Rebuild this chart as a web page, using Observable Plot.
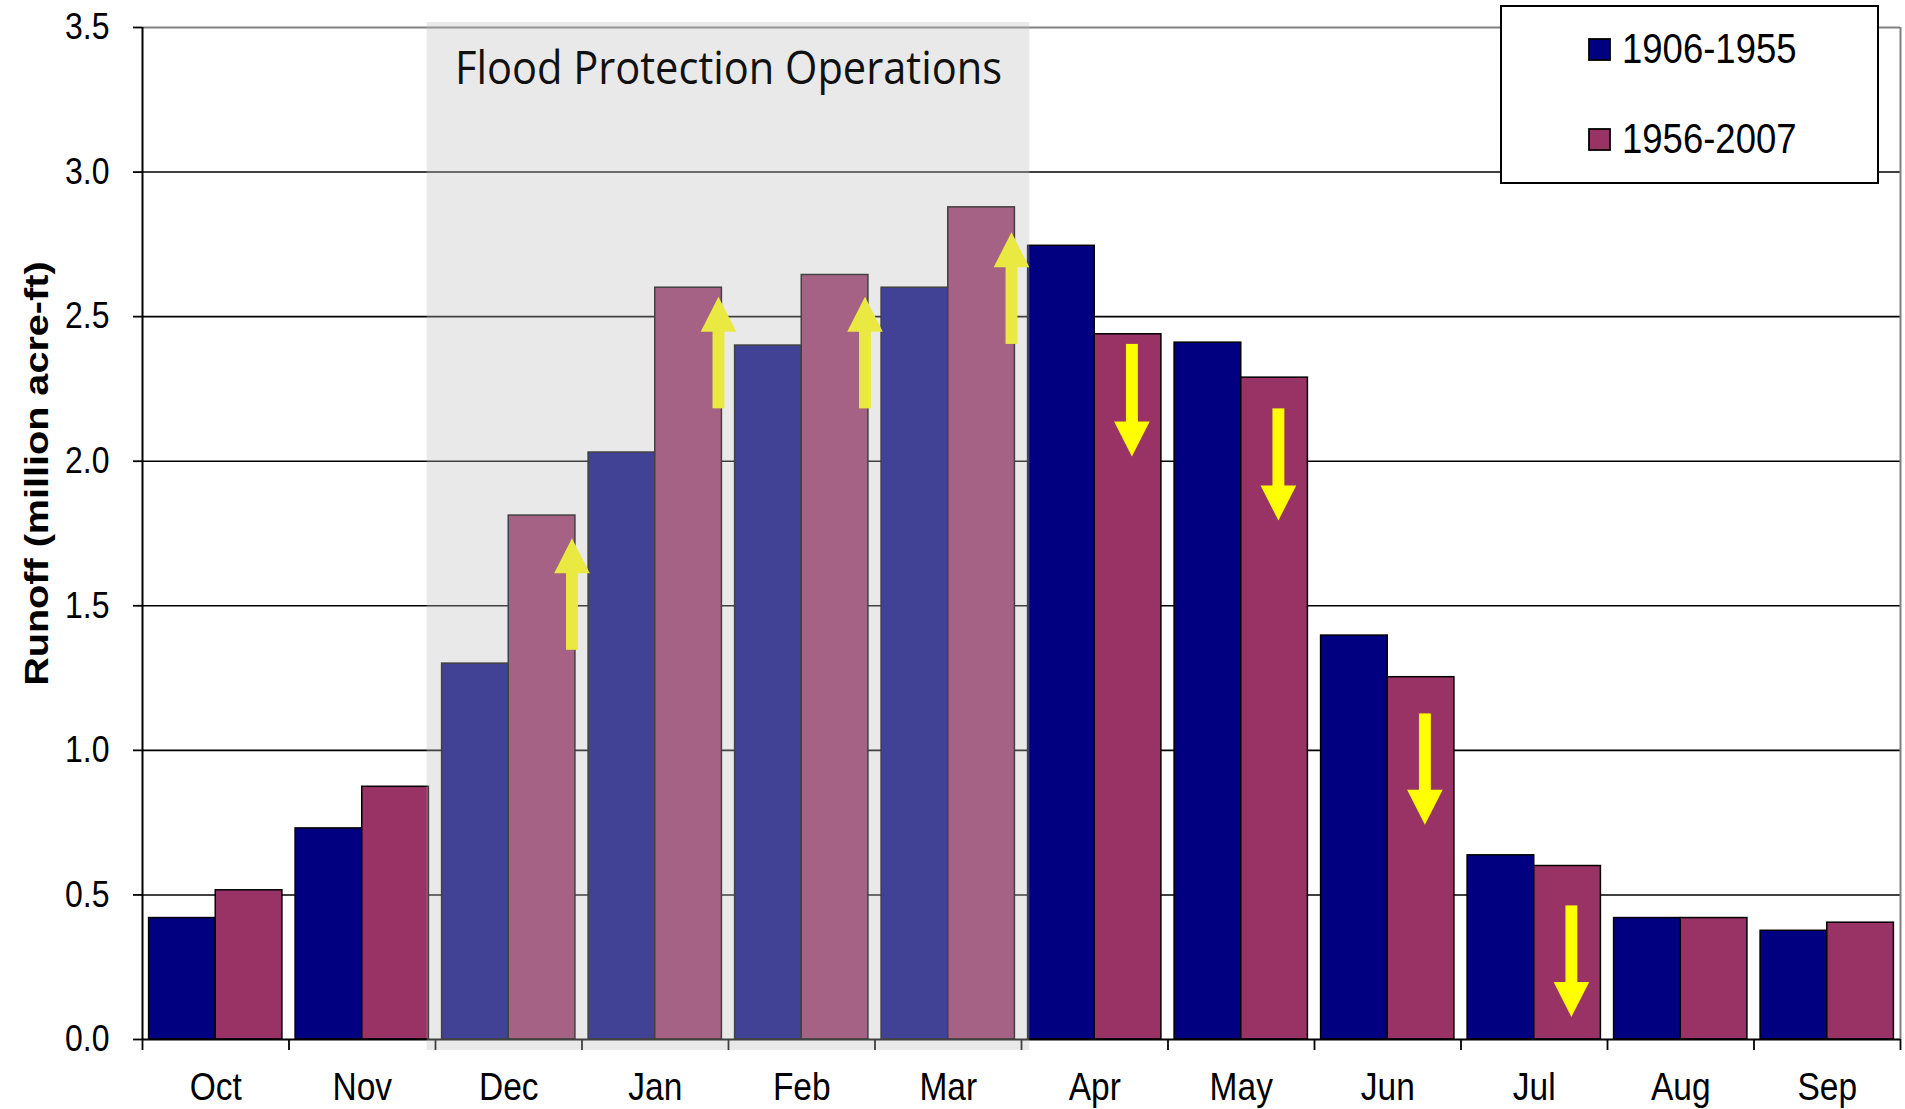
<!DOCTYPE html>
<html>
<head>
<meta charset="utf-8">
<script src="https://cdn.jsdelivr.net/npm/d3@7"></script>
<script src="https://cdn.jsdelivr.net/npm/@observablehq/plot@0.6"></script>
<style>
  html, body { margin: 0; padding: 0; background: #fff; overflow: hidden; }
  #chart { position: relative; width: 1905px; height: 1109px; }
  #legend { position: absolute; left: 1500px; top: 5px; }
</style>
</head>
<body>
<div id="chart"></div>
<script>
// Monthly runoff, million acre-ft, water year order
const months = ["Oct", "Nov", "Dec", "Jan", "Feb", "Mar", "Apr", "May", "Jun", "Jul", "Aug", "Sep"];
const periods = ["1906-1955", "1956-2007"];
const runoffEarly = [0.42, 0.73, 1.30, 2.03, 2.40, 2.60, 2.745, 2.41, 1.397, 0.637, 0.42, 0.376];
const runoffLate  = [0.516, 0.874, 1.812, 2.60, 2.644, 2.878, 2.439, 2.289, 1.253, 0.600, 0.420, 0.404];
const periodColors = ["#000080", "#993366"];
const yTicks = [0, 0.5, 1.0, 1.5, 2.0, 2.5, 3.0, 3.5];
const yLabel = "Runoff (million acre-ft)";

// Flood protection season and the shift arrows
const floodSpan = ["Dec", "Mar"];
const floodLabel = "Flood Protection Operations";
const arrowMonths = ["Dec", "Jan", "Feb", "Mar", "Apr", "May", "Jun", "Jul"];
const arrowFrom = [1.346, 2.181, 2.181, 2.404, 2.404, 2.181, 1.126, 0.462];
const arrowTo   = [1.732, 2.567, 2.567, 2.790, 2.015, 1.793, 0.741, 0.076];

// ---- derived tables ----
const bars = months.flatMap((m, i) => [
  {month: m, i, period: periods[0], value: runoffEarly[i], slot: 0},
  {month: m, i, period: periods[1], value: runoffLate[i], slot: 1}
]);

const GAP = 0.045;             // space at each side of a month group (band units)
const HEAD_LEN = 0.121;        // arrow head length (y units)
const HEAD_HALF = 0.1215;      // half head width (band units)
const SHAFT_HALF = 0.0406;     // half shaft width (band units)

const arrows = arrowMonths.map((m, k) => {
  const i = months.indexOf(m);
  const dir = arrowTo[k] > arrowFrom[k] ? 1 : -1;
  return {k, i, dir, x: i + (dir > 0 ? 0.935 : 0.757), from: arrowFrom[k], to: arrowTo[k]};
});
const heads = arrows.flatMap(a => {
  const base = a.to - a.dir * HEAD_LEN;
  return [
    {k: a.k, x: a.x - HEAD_HALF, y1: base, y2: base},
    {k: a.k, x: a.x, y1: base, y2: a.to},
    {k: a.k, x: a.x + HEAD_HALF, y1: base, y2: base}
  ];
});

const f0 = months.indexOf(floodSpan[0]);
const f1 = months.indexOf(floodSpan[1]) + 1;
const yellow = "#ffff00";

const chart = Plot.plot({
  width: 1905,
  height: 1109,
  marginLeft: 142,
  marginRight: 5,
  marginTop: 27,
  marginBottom: 70,
  style: {fontFamily: "'Liberation Sans', Arial, sans-serif", color: "#000", background: "#fff"},
  x: {type: "linear", domain: [0, 12]},
  y: {domain: [0, 3.5]},
  color: {domain: periods, range: periodColors},
  marks: [
    // horizontal grid and plot-area border
    Plot.ruleY(yTicks.filter(v => v > 0 && v < 3.5), {stroke: "#000", strokeWidth: 1.6}),
    Plot.ruleY([3.5], {stroke: "#808080", strokeWidth: 2}),
    Plot.ruleX([12], {stroke: "#808080", strokeWidth: 2}),

    // grouped bars
    Plot.rect(bars, {
      x1: d => d.i + (d.slot ? 0.5 : GAP),
      x2: d => d.i + (d.slot ? 1 - GAP : 0.5),
      y1: 0,
      y2: "value",
      fill: "period",
      stroke: "#000",
      strokeWidth: 1.5
    }),

    // shift arrows: shaft and filled head
    Plot.rect(arrows, {
      x1: d => d.x - SHAFT_HALF,
      x2: d => d.x + SHAFT_HALF,
      y1: "from",
      y2: d => d.to - d.dir * (HEAD_LEN - 0.006),
      fill: yellow
    }),
    Plot.areaY(heads, {x: "x", y1: "y1", y2: "y2", z: "k", fill: yellow, curve: "linear"}),

    // axis lines and month boundary ticks
    Plot.ruleX([0], {stroke: "#000", strokeWidth: 2}),
    Plot.ruleY([0], {stroke: "#000", strokeWidth: 2}),
    Plot.axisX({ticks: d3.range(0, 13), tickSize: 11, tickFormat: () => "", strokeWidth: 1.8, label: null}),

    // flood protection season overlay
    Plot.rect([floodLabel], {
      x1: f0 - 0.057, x2: f1 + 0.057, y1: -0.038, y2: 3.517,
      fill: "#bebebe", fillOpacity: 0.34
    }),
    Plot.text([floodLabel], {
      x: (f0 + f1) / 2, y: 3.356, text: d => d,
      fontFamily: "'Open Sans', sans-serif", fontSize: 46, fill: "#111",
      lineAnchor: "middle"
    }),

    // tick labels
    Plot.axisX({
      ticks: months.map((m, i) => i + 0.5), tickSize: 0, tickPadding: 33,
      tickFormat: d => months[Math.floor(d)], fontSize: 33.5, label: null
    }),
    Plot.axisY({
      ticks: yTicks, tickFormat: d3.format(".1f"), tickSize: 9, tickPadding: 24,
      fontSize: 32, strokeWidth: 1.8, label: null
    }),
    Plot.text([yLabel], {
      frameAnchor: "left", y: 1.957, dx: -105, rotate: -90, text: d => d,
      fontWeight: "bold", fontSize: 33, textAnchor: "middle", lineAnchor: "middle"
    })
  ]
});

// Arial-style lettering in this chart is drawn tall; stretch text about its anchor
function stretch(el, sx, sy) {
  const t = el.getAttribute("transform") || "";
  el.setAttribute("transform", `${t} scale(${sx},${sy})`);
}
chart.querySelectorAll('g[aria-label="x-axis tick label"] text, g[aria-label="y-axis tick label"] text')
  .forEach(t => stretch(t, 1, 1.15));
chart.querySelectorAll("text").forEach(t => {
  if (t.textContent === yLabel) stretch(t, 1.2, 1);
  if (t.textContent === floodLabel) {
    t.setAttribute("textLength", 547);
    t.setAttribute("lengthAdjust", "spacingAndGlyphs");
  }
});

document.getElementById("chart").appendChild(chart);

// legend box
const legend = d3.select("#chart").append("svg")
  .attr("id", "legend").attr("width", 381).attr("height", 180)
  .style("font-family", "'Liberation Sans', Arial, sans-serif");
legend.append("rect")
  .attr("x", 1).attr("y", 1).attr("width", 377).attr("height", 177)
  .attr("fill", "#fff").attr("stroke", "#000").attr("stroke-width", 2);
periods.forEach((p, k) => {
  const top = 34 + k * 90;
  legend.append("rect")
    .attr("x", 89).attr("y", top).attr("width", 21).attr("height", 21)
    .attr("fill", periodColors[k]).attr("stroke", "#000").attr("stroke-width", 1.8);
  legend.append("text")
    .attr("transform", `translate(122,${top + 24}) scale(1,1.15)`)
    .attr("font-size", 36.5).attr("fill", "#000")
    .text(p);
});
</script>
</body>
</html>
